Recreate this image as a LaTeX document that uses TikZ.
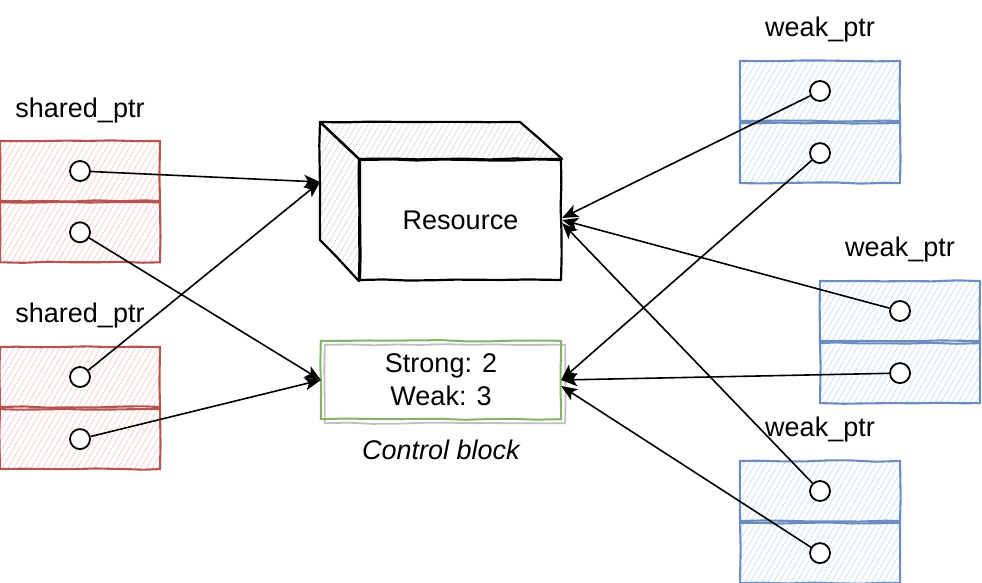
\documentclass[tikz,border=0pt]{standalone}
\usepackage{fontspec}
\setmainfont{Liberation Sans}
\usetikzlibrary{arrows.meta,decorations.pathmorphing,patterns.meta,positioning}

\definecolor{sharedline}{HTML}{B85450}
\definecolor{sharedfill}{HTML}{F4B8B6}
\definecolor{weakline}{HTML}{6C8EBF}
\definecolor{weakfill}{HTML}{B9D2F3}
\definecolor{ctrlline}{HTML}{82B366}
\definecolor{cubefill}{HTML}{CFCFCF}

\begin{document}
\begin{tikzpicture}[x=1pt,y=-1pt,
  font=\fontsize{27}{33}\selectfont,
  node distance=14pt,
  sketch/.style={decorate,decoration={random steps,segment length=24pt,amplitude=.7pt}},
  hatch/.style={pattern={Lines[angle=60,distance=5pt,line width=.5pt]},pattern color=#1},
  cell/.style={minimum width=160pt,minimum height=60pt,inner sep=0pt,line width=2.1pt,sketch},
  sharedcell/.style={cell,draw=sharedline,hatch=sharedfill},
  weakcell/.style={cell,draw=weakline,hatch=weakfill},
  tag/.style={inner sep=3.3pt},
  slot/.style={circle,draw,fill=white,line width=1.8pt,minimum size=20pt,inner sep=0pt},
  face/.style={draw,line width=2.2pt,line join=round,sketch},
  ptr/.style={-{Stealth[length=16pt,width=13pt,inset=4pt]},line width=1.6pt}
]
  \useasboundingbox (0,0) rectangle (982,582);

  % shared_ptr boxes
  \node[sharedcell] (s1top) at (80,171) {};
  \node[sharedcell,below=0pt of s1top] (s1bot) {};
  \node[tag,above=of s1top] (s1tag) {shared\_ptr};
  \node[sharedcell] (s2top) at (80,377) {};
  \node[sharedcell,below=0pt of s2top] (s2bot) {};
  \node[tag,above=of s2top] (s2tag) {shared\_ptr};

  % weak_ptr boxes
  \node[weakcell] (w1top) at (820,91) {};
  \node[weakcell,below=0pt of w1top] (w1bot) {};
  \node[tag,above=of w1top] (w1tag) {weak\_ptr};
  \node[weakcell] (w2top) at (900,311) {};
  \node[weakcell,below=0pt of w2top] (w2bot) {};
  \node[tag,above=of w2top] (w2tag) {weak\_ptr};
  \node[weakcell] (w3top) at (820,491) {};
  \node[weakcell,below=0pt of w3top] (w3bot) {};
  \node[tag,above=of w3top] (w3tag) {weak\_ptr};

  % pointer slots
  \foreach \p in {s1,s2,w1,w2,w3} {
    \node[slot] (\p a) at (\p top) {};
    \node[slot] (\p b) at (\p bot) {};
  }

  % resource cube
  \node[face,fill=white,minimum width=201pt,minimum height=120pt] (res) at (460.5,220) {Resource};
  \coordinate (backtl) at (320,122);
  \coordinate (backtr) at (520,122);
  \coordinate (backbl) at (320,240);
  \draw[face,hatch=cubefill] (res.north west) -- (backtl) -- (backtr) -- (res.north east) -- cycle;
  \draw[face,hatch=cubefill] (res.north west) -- (backtl) -- (backbl) -- (res.south west) -- cycle;
  \coordinate (resleft) at (320,182);

  % control block
  \node[align=center,minimum width=240pt,minimum height=78pt] (ctrl) at (441,380) {Strong: 2\\Weak: 3};
  \draw[black!25,line width=1.8pt,sketch] ([shift={(4,4)}]ctrl.north west) rectangle ([shift={(4,4)}]ctrl.south east);
  \draw[ctrlline,line width=2pt,sketch] (ctrl.north west) rectangle (ctrl.south east);
  \node[tag,below=17pt of ctrl,font=\fontsize{27}{33}\selectfont\itshape] (ctrltag) {Control block};

  % pointers
  \draw[ptr] (s1a) -- (resleft);
  \draw[ptr] (s1b) -- (ctrl.west);
  \draw[ptr] (s2a) -- (resleft);
  \draw[ptr] (s2b) -- (ctrl.west);
  \draw[ptr] (w1a) -- ([yshift=2pt]res.east);
  \draw[ptr] (w1b) -- (ctrl.east);
  \draw[ptr] (w2a) -- (res.east);
  \draw[ptr] (w2b) -- (ctrl.east);
  \draw[ptr] (w3a) -- ([yshift=-3pt]res.east);
  \draw[ptr] (w3b) -- ([yshift=-6pt]ctrl.east);
\end{tikzpicture}
\end{document}
